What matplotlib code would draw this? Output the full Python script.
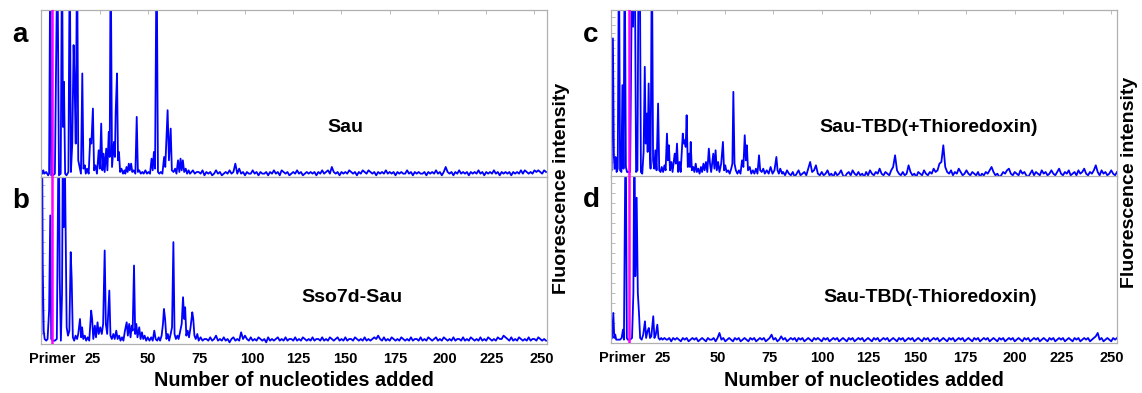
import numpy as np
import matplotlib
matplotlib.use("Agg")
import matplotlib.pyplot as plt

plt.rcParams['font.family'] = ['Liberation Sans', 'DejaVu Sans']
plt.rcParams['font.weight'] = 'bold'

# ---- data (x = nucleotides added, primer at 0 ; y = % of panel height) ----
tick_labels = ['Primer', '25', '50', '75', '100', '125', '150', '175', '200', '225', '250']

panel_names = ['Sau', 'Sso7d-Sau', 'Sau-TBD(+Thioredoxin)', 'Sau-TBD(-Thioredoxin)']

# peaks / valleys of the trace near the primer (x, y)
a_head = [(-6, 3), (-5.5, 4), (-5, 2), (-4.5, 4), (-4, 2), (-3, 3), (-2, 1), (-1.5, 2), (-0.9, 140), (-0.4, 1),
          (0.5, 1), (1.5, 2), (2.8, 140), (3.6, 1), (4.5, 2), (5.2, 140), (5.7, 30), (6.2, 57), (6.8, 2), (7.5, 1),
          (8.5, 3), (9.2, 140), (9.8, 3), (10.5, 20), (11.2, 79), (11.7, 57), (12.3, 20), (13, 140), (13.6, 10), (14.3, 6),
          (15, 2), (15.7, 62), (16.3, 5), (17, 7), (17.5, 2), (18.2, 5), (19, 2), (19.8, 23), (20.4, 20), (21.2, 41),
          (21.8, 4), (22.5, 7), (23.3, 2), (24.2, 16), (24.8, 5), (25.5, 32), (26.1, 4), (26.7, 14), (27.3, 3), (28.1, 17),
          (28.7, 4), (29.4, 27), (29.9, 12), (30.4, 140), (31.1, 6), (32.1, 21), (32.6, 12), (33, 39), (33.7, 62), (34.2, 10),
          (34.7, 15), (35.3, 3), (36, 5), (36.8, 2), (37.5, 4), (38, 2), (38.6, 6), (39.2, 3), (39.8, 8), (40.3, 4),
          (41, 8), (41.6, 3), (42.3, 4), (43.2, 2), (43.9, 36), (44.5, 3), (45.2, 4), (46, 2), (46.8, 3), (47.5, 2),
          (48.4, 4), (49.2, 2), (50, 3), (50.8, 2), (51.6, 11), (52.2, 4), (52.8, 15), (53.4, 5), (54.2, 140), (54.9, 3),
          (55.6, 2), (56.4, 3), (57.2, 2), (58.1, 12), (58.7, 6), (59.9, 40), (60.6, 10), (61.5, 29), (62.1, 4), (63, 3),
          (63.8, 5), (64.5, 2), (65.3, 10), (66, 3), (66.6, 11), (67.2, 4), (67.8, 10), (68.5, 3), (69.3, 5), (70, 2),
          (70.8, 4), (71.5, 2), (72.3, 3), (73, 4), (74, 2), (75, 3)]

b_head = [(-6, 3), (-5.5, 6), (-5.2, 140), (-4.8, 47), (-4.3, 8), (-3.8, 3), (-3, 2), (-2.3, 3), (-1.5, 20), (-0.9, 77),
          (-0.4, 3), (0.5, 2), (1.5, 2), (2.5, 3), (3.5, 140), (4, 40), (4.6, 2), (5.2, 30), (5.7, 140), (6.1, 70),
          (6.4, 140), (7.1, 65), (7.6, 10), (8.3, 5), (9, 8), (9.7, 55), (10.2, 39), (10.8, 4), (11.5, 2), (12.2, 5),
          (13, 3), (13.6, 6), (14.5, 15), (15.1, 4), (15.6, 10), (16.2, 3), (17, 5), (17.7, 2), (18.5, 4), (19.3, 2),
          (20.3, 20), (20.8, 15), (21.4, 3), (22.2, 11), (22.8, 4), (23.6, 13), (24.2, 6), (25, 10), (25.8, 6), (26.5, 12),
          (27.3, 56), (27.9, 12), (28.6, 6), (29.7, 32), (30.3, 5), (31, 3), (31.8, 6), (32.5, 3), (33.3, 8), (34, 3),
          (34.8, 5), (35.5, 2), (36.3, 4), (37, 2), (37.8, 8), (38.7, 13), (39.3, 5), (40, 12), (40.7, 4), (41.3, 11),
          (41.8, 8), (42.5, 47), (43.1, 6), (43.7, 12), (44.3, 4), (45.2, 10), (45.9, 3), (46.6, 7), (47.3, 3), (48, 5),
          (48.8, 2), (49.6, 4), (50.5, 2), (51.4, 4), (52.2, 2), (53, 8), (53.7, 3), (54.5, 2), (55.3, 4), (56, 2),
          (56.8, 5), (57.5, 12), (58, 21), (58.6, 15), (59.3, 3), (60, 6), (60.7, 2), (61.5, 6), (62.2, 10), (62.9, 61),
          (63.5, 6), (64.2, 3), (65, 5), (65.6, 3), (66.3, 7), (67.2, 12), (67.9, 28), (68.5, 15), (69, 22), (69.6, 5),
          (70.3, 8), (71, 4), (71.8, 10), (72.7, 19), (73.2, 15), (73.8, 5), (74.5, 3), (75.3, 6), (76, 2), (77, 4),
          (78, 2), (79, 3)]

c_head = [(-9.2, 3), (-8.9, 4), (-8.2, 83), (-7.7, 12), (-7.3, 5), (-6.8, 12), (-6.3, 3), (-5.7, 5), (-5.1, 140), (-4.5, 4),
          (-3.8, 3), (-3.3, 55), (-2.7, 5), (-2.1, 140), (-1.5, 6), (-0.9, 3), (0.7, 3), (1.8, 140), (2.25, 90), (2.7, 140),
          (3.3, 100), (3.8, 3), (4.5, 4), (5.1, 140), (5.7, 140), (6.3, 3), (7, 2), (7.7, 15), (8.3, 66), (8.8, 20),
          (9.4, 38), (9.8, 15), (10.3, 56), (10.8, 20), (11.3, 5), (12, 140), (12.6, 10), (13.2, 5), (13.8, 16), (14.4, 4),
          (15.2, 44), (15.8, 4), (16.5, 3), (17.1, 6), (17.8, 3), (18.5, 7), (19.1, 4), (19.8, 26), (20.3, 10), (20.8, 19),
          (21.4, 4), (22.1, 9), (22.7, 3), (23.8, 14), (24.4, 8), (25, 20), (25.6, 3), (26.3, 9), (26.9, 3), (28, 26),
          (28.5, 20), (29, 22), (29.5, 18), (30, 37), (30.6, 6), (31.3, 14), (31.7, 6), (32.1, 21), (32.7, 4), (33.4, 6),
          (34, 3), (34.7, 8), (35.3, 3), (36, 5), (36.7, 2), (37.4, 6), (38, 3), (38.7, 8), (39.3, 4), (40, 9),
          (40.7, 3), (41.5, 17), (42.1, 8), (42.7, 3), (43.8, 14), (44.4, 5), (45, 16), (45.6, 4), (46.3, 9), (47, 3),
          (47.9, 8), (48.8, 21), (49.4, 4), (50, 7), (50.7, 3), (51.5, 4), (52.3, 2), (53.1, 5), (53.7, 8), (54.2, 51),
          (54.8, 8), (55.5, 4), (56.3, 2), (57.1, 4), (57.9, 2), (58.7, 10), (59.4, 6), (60.1, 25), (60.7, 10), (61.2, 19),
          (61.8, 4), (62.7, 6), (63.5, 2), (64.3, 4), (65.1, 2), (65.9, 5), (66.7, 2), (67.5, 13), (68.1, 4), (68.9, 3),
          (69.7, 5), (70.5, 2), (71.5, 4), (72.5, 2), (73.5, 6), (74.5, 2), (75.5, 4), (76.5, 12), (77.1, 4), (77.8, 2),
          (78.5, 5), (79.5, 2)]

d_head = [(-9.2, 2), (-8.7, 3), (-8, 18), (-7.5, 3), (-7, 5), (-6.5, 2), (-5.5, 2), (-4.5, 2), (-3.7, 3), (-3, 8),
          (-2.5, 2), (-1.6, 140), (-1, 3), (-0.5, 2), (0.7, 2), (1.7, 3), (2.4, 30), (2.9, 140), (3.4, 40), (4.1, 87),
          (4.7, 30), (5.3, 18), (5.9, 3), (6.7, 2), (7.5, 5), (8.4, 13), (9, 3), (9.7, 7), (10.4, 9), (11, 3),
          (11.7, 4), (12.7, 16), (13.3, 3), (14, 5), (14.8, 11), (15.4, 3), (16.1, 2), (16.8, 3), (17.5, 2), (18.5, 3),
          (19.5, 2)]

# rest of the trace, one value per nucleotide
a_tail_start = 76
a_tail = [3, 2, 4, 1, 3, 2, 3, 1, 2, 4, 2, 3, 1, 2, 3, 2, 4, 2, 3, 8,
          2, 5, 2, 3, 1, 3, 2, 2, 4, 2, 3, 1, 3, 2, 2, 3, 1, 3, 2, 4,
          2, 3, 1, 4, 3, 2, 3, 1, 2, 3, 2, 4, 2, 3, 1, 2, 3, 2, 3, 2,
          3, 1, 3, 2, 4, 2, 3, 4, 2, 6, 3, 2, 3, 1, 3, 2, 3, 2, 4, 3,
          2, 3, 1, 3, 2, 4, 3, 2, 4, 3, 2, 3, 1, 3, 2, 3, 2, 4, 2, 3,
          2, 3, 1, 3, 2, 3, 2, 2, 4, 2, 3, 1, 3, 2, 3, 2, 2, 3, 1, 3,
          2, 3, 2, 4, 2, 3, 1, 3, 6, 3, 2, 3, 1, 3, 2, 4, 2, 3, 2, 3,
          1, 3, 2, 3, 2, 4, 2, 3, 1, 3, 2, 3, 2, 4, 2, 3, 1, 3, 2, 3,
          2, 3, 1, 3, 2, 3, 2, 4, 2, 4, 3, 2, 3, 2, 4, 3, 4, 3, 2, 4, 3]

b_tail_start = 80
b_tail = [3, 2, 4, 2, 3, 5, 2, 3, 2, 4, 2, 3, 1, 3, 4, 2, 3, 2, 7, 3,
          5, 3, 2, 4, 2, 3, 2, 4, 3, 2, 3, 1, 4, 2, 3, 2, 3, 4, 2, 3,
          2, 4, 2, 3, 3, 2, 4, 2, 3, 2, 4, 3, 2, 3, 2, 4, 2, 3, 3, 2,
          4, 2, 3, 2, 4, 3, 2, 3, 4, 2, 3, 2, 4, 2, 3, 3, 2, 4, 3, 2,
          3, 2, 4, 2, 3, 2, 3, 4, 3, 5, 3, 2, 4, 2, 3, 2, 4, 3, 2, 3,
          2, 4, 3, 2, 3, 2, 4, 2, 3, 3, 2, 4, 2, 3, 2, 4, 3, 2, 3, 4,
          2, 3, 2, 4, 3, 2, 3, 2, 4, 2, 3, 3, 2, 4, 2, 3, 2, 4, 3, 2,
          3, 2, 4, 2, 3, 2, 4, 3, 2, 3, 2, 4, 3, 3, 5, 4, 3, 2, 4, 2,
          3, 2, 4, 3, 2, 3, 2, 4, 2, 3, 3, 2, 4, 3, 2, 3, 2]

c_tail_start = 80
c_tail = [3, 1, 4, 2, 1, 3, 0, 2, 4, 1, 2, 3, 1, 5, 9, 3, 4, 7, 2, 1,
          3, 1, 2, 4, 1, 2, 0, 3, 1, 2, 4, 1, 0, 2, 3, 1, 4, 2, 1, 3,
          1, 2, 0, 3, 1, 4, 2, 1, 3, 2, 5, 2, 1, 3, 2, 1, 4, 6, 13, 4,
          2, 1, 3, 1, 2, 7, 3, 1, 2, 0, 3, 2, 1, 4, 2, 1, 3, 2, 5, 3,
          4, 8, 9, 19, 6, 3, 2, 4, 1, 3, 2, 5, 3, 1, 2, 4, 2, 1, 3, 2,
          1, 3, 0, 2, 1, 3, 2, 4, 6, 3, 1, 2, 0, 1, 3, 2, 4, 5, 2, 1,
          3, 2, 1, 4, 2, 3, 1, 0, 2, 4, 1, 3, 2, 1, 4, 2, 3, 1, 2, 4,
          2, 1, 3, 5, 2, 1, 3, 2, 4, 1, 2, 3, 1, 4, 2, 3, 5, 2, 1, 3,
          2, 4, 7, 3, 1, 4, 2, 3, 1, 2, 4, 2, 1, 3]

d_tail_start = 20
d_tail = [2, 3, 1, 3, 2, 3, 2, 1, 3, 2, 3, 1, 2, 3, 2, 3, 1, 2, 3, 2,
          1, 3, 2, 2, 3, 1, 3, 6, 2, 3, 1, 2, 3, 2, 1, 3, 2, 3, 1, 2,
          3, 2, 1, 3, 2, 3, 1, 2, 3, 2, 3, 1, 2, 3, 5, 2, 3, 1, 2, 4,
          2, 3, 1, 2, 3, 2, 3, 1, 3, 2, 3, 1, 2, 3, 2, 1, 3, 2, 3, 2,
          1, 3, 2, 3, 1, 2, 3, 2, 3, 1, 2, 3, 2, 1, 3, 2, 3, 1, 2, 3,
          2, 3, 1, 2, 3, 2, 1, 3, 2, 3, 1, 2, 3, 2, 3, 1, 2, 3, 2, 1,
          3, 2, 3, 1, 2, 3, 2, 3, 1, 2, 3, 2, 1, 3, 2, 3, 1, 2, 3, 2,
          3, 1, 2, 3, 2, 1, 3, 2, 3, 1, 2, 3, 2, 3, 1, 2, 3, 2, 1, 3,
          2, 3, 1, 2, 3, 2, 3, 1, 2, 3, 2, 1, 3, 2, 3, 1, 2, 3, 2, 3,
          1, 2, 3, 2, 1, 3, 2, 3, 1, 2, 3, 2, 3, 1, 2, 3, 2, 1, 3, 2,
          3, 1, 2, 3, 2, 3, 1, 2, 3, 2, 1, 3, 2, 3, 1, 2, 3, 2, 3, 1,
          2, 3, 4, 6, 2, 3, 1, 2, 3, 2, 1, 3, 2, 3]

# ---- layout ----
W, H = 1142, 393
fig = plt.figure(figsize=(W / 100, H / 100), dpi=100)

gray = '#b0b0b0'
blue = '#0000ff'
magenta = '#ff00ff'

# x-limits of the left and right column (primer at 0)
xlim_left = (-5.7, 256.5)
xlim_right = (-9.2, 253.0)
# where the tick labels sit, in pixels from the left spine (axis is 506 px wide)
label_px = [11, 52, 107, 159, 211, 257, 304, 354, 404, 451, 501]


def make_axes(x0, y_top):
    return fig.add_axes([x0 / W, 1 - (y_top + 167) / H, 506 / W, 167 / H])


def draw_panel(ax, head, tail_start, tail, xlim, is_top, ystep):
    xs = [p[0] for p in head] + list(range(tail_start, tail_start + len(tail)))
    ys = [p[1] for p in head] + tail
    ax.plot(xs, ys, color=blue, lw=1.3)
    ax.axvline(0, color=magenta, lw=1.8, zorder=3)

    ax.set_xlim(xlim)
    ax.set_ylim(0, 100)
    for s in ax.spines.values():
        s.set_color(gray)
        s.set_linewidth(0.9)

    # major x ticks only carry the labels
    span = xlim[1] - xlim[0]
    ax.set_xticks([xlim[0] + p / 506 * span for p in label_px])
    if is_top:
        ax.set_xticklabels([])
    else:
        ax.set_xticklabels(tick_labels, fontsize=10.5)
    ax.tick_params(axis='x', which='major', length=0, pad=6)
    # small gray marks along the top
    ax.set_xticks(np.arange(0, 251, 25), minor=True)
    ax.tick_params(axis='x', which='minor', top=is_top, bottom=False,
                   direction='in', length=3, color=gray)

    if ystep:
        ax.set_yticks(np.arange(ystep, 100, ystep))
    else:
        ax.set_yticks([])
    ax.set_yticklabels([])
    ax.tick_params(axis='y', direction='in', length=3, width=0.6, color=gray)


ax_a = make_axes(41, 10)
ax_b = make_axes(41, 177)
ax_c = make_axes(611, 10)
ax_d = make_axes(611, 176)

draw_panel(ax_a, a_head, a_tail_start, a_tail, xlim_left, True, None)
draw_panel(ax_b, b_head, b_tail_start, b_tail, xlim_left, False, 6.8)
draw_panel(ax_c, c_head, c_tail_start, c_tail, xlim_right, True, 4.55)
draw_panel(ax_d, d_head, d_tail_start, d_tail, xlim_right, False, 6.0)

# sample names inside the panels
fig.text(345 / W, 1 - 127 / H, panel_names[0], fontsize=14, ha='center', va='center')
fig.text(352 / W, 1 - 297 / H, panel_names[1], fontsize=14, ha='center', va='center')
fig.text(929 / W, 1 - 127 / H, panel_names[2], fontsize=14, ha='center', va='center')
fig.text(930 / W, 1 - 297 / H, panel_names[3], fontsize=14, ha='center', va='center')

# panel letters
for lab, x, y in [('a', 12, 42), ('b', 12, 208), ('c', 583, 42), ('d', 583, 207)]:
    fig.text(x / W, 1 - y / H, lab, fontsize=20, ha='left', va='baseline')

# axis titles
fig.text(294 / W, 1 - 381 / H, 'Number of nucleotides added', fontsize=14.3, ha='center', va='center')
fig.text(864 / W, 1 - 381 / H, 'Number of nucleotides added', fontsize=14.3, ha='center', va='center')
fig.text(561 / W, 1 - 188 / H, 'Fluorescence intensity', fontsize=14, rotation=90, ha='center', va='center')
fig.text(1129 / W, 1 - 182 / H, 'Fluorescence intensity', fontsize=14, rotation=90, ha='center', va='center')

fig.savefig('out.png', dpi=100)
